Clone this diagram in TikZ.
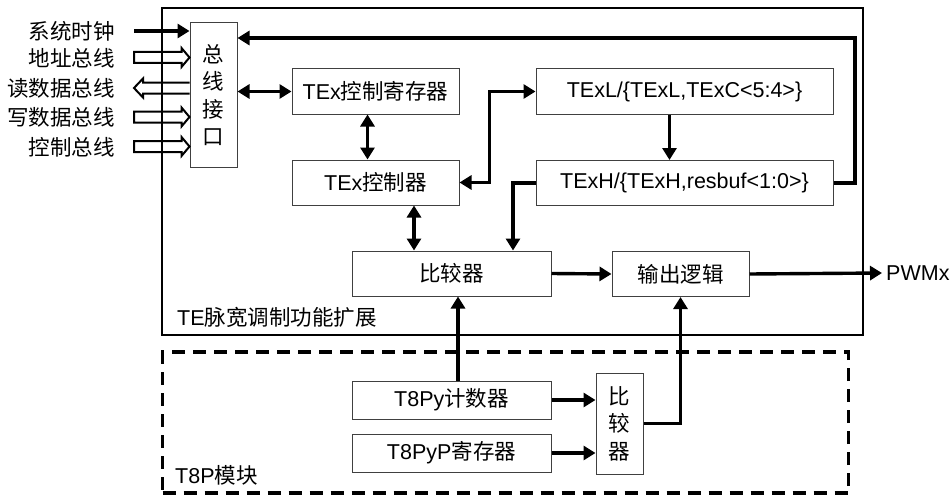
\documentclass[tikz,border=0pt]{standalone}
\usepackage{fontspec}
\setmainfont{Liberation Sans}
\newfontfamily\cjk{Noto Sans CJK SC}
\usetikzlibrary{arrows.meta,calc}
\begin{document}
\begin{tikzpicture}[x=1pt,y=-1pt,
  every node/.style={font=\fontsize{21.5}{27.5}\selectfont, inner sep=0pt},
  cjkf/.style={font=\fontsize{21.5}{27.5}\selectfont\cjk},
  blk/.style={draw=black!75, line width=1pt, minimum height=45pt},
  con/.style={line width=3.4pt, -{Triangle[length=12pt,width=14pt]}},
  bicon/.style={line width=3.4pt, {Triangle[length=12pt,width=14pt]}-{Triangle[length=12pt,width=14pt]}},
  hollow/.style={line width=2pt, line join=miter},
  lbl/.style={cjkf, anchor=east}]
\useasboundingbox (0,0) rectangle (950,495);

% frames
\node[draw, line width=2.2pt, minimum width=701pt, minimum height=327pt] (te) at (512.5,171.5) {};
\node[draw, line width=3.2pt, dash pattern=on 13pt off 8pt, minimum width=686pt, minimum height=141pt] (t8p) at (505.5,422.5) {};
\node[anchor=west] (telab) at (177,317) {TE{\cjk 脉宽调制功能扩展}};
\node[anchor=west] (t8plab) at (175,475) {T8P{\cjk 模块}};

% left labels
\node[lbl] (l1) at (115,31) {系统时钟};
\node[lbl] (l2) at (115,58) {地址总线};
\node[lbl] (l3) at (115,88) {读数据总线};
\node[lbl] (l4) at (115,117) {写数据总线};
\node[lbl] (l5) at (115,147) {控制总线};

% blocks
\node[blk, cjkf, minimum width=47pt, minimum height=144pt, align=center] (bus) at (213.5,95) {总\\线\\接\\口};
\node[blk, minimum width=167pt] (reg) at (375.5,91.5) {TEx{\cjk 控制寄存器}};
\node[blk, minimum width=167pt] (ctl) at (375.5,182.5) {TEx{\cjk 控制器}};
\node[blk, minimum width=297pt] (texl) at (684.5,91.5) {TExL/\{TExL,TExC<5:4>\}};
\node[blk, minimum width=297pt] (texh) at (684.5,183) {TExH/\{TExH,resbuf<1:0>\}};
\node[blk, cjkf, minimum width=199pt] (cmp) at (451.5,273.5) {比较器};
\node[blk, cjkf, minimum width=137pt] (outl) at (680.5,274) {输出逻辑};
\node[blk, minimum width=199pt, minimum height=38pt] (cnt) at (451.5,400) {T8Py{\cjk 计数器}};
\node[blk, minimum width=199pt, minimum height=38pt] (pr) at (451.5,453) {T8PyP{\cjk 寄存器}};
\node[blk, cjkf, minimum width=47pt, minimum height=101pt, align=center] (scmp) at (619.5,423.5) {比\\较\\器};
\node[anchor=west, inner xsep=4pt] (pwm) at (882,273) {PWMx};

% input arrows
\coordinate (c1) at ($(l1.east)+(19,0)$);
\draw[con] (c1) -- (bus.west |- c1);
\coordinate (c2) at ($(l2.east)+(19,-0.5)$);
\coordinate (d2) at (bus.west |- c2);
\draw[hollow] ($(c2)+(0,-5.5)$) -- ($(d2)+(-8,-5.5)$) -- ($(d2)+(-8,-9.5)$) -- (d2) -- ($(d2)+(-8,9.5)$) -- ($(d2)+(-8,5.5)$) -- ($(c2)+(0,5.5)$) -- cycle;
\coordinate (c3) at ($(l3.east)+(19,0)$);
\coordinate (d3) at (bus.west |- c3);
\draw[hollow] ($(d3)+(0,-5.5)$) -- ($(c3)+(9,-5.5)$) -- ($(c3)+(9,-9.5)$) -- (c3) -- ($(c3)+(9,9.5)$) -- ($(c3)+(9,5.5)$) -- ($(d3)+(0,5.5)$);
\coordinate (c4) at ($(l4.east)+(19,0)$);
\coordinate (d4) at (bus.west |- c4);
\draw[hollow] ($(c4)+(0,-5.5)$) -- ($(d4)+(-8,-5.5)$) -- ($(d4)+(-8,-9.5)$) -- (d4) -- ($(d4)+(-8,9.5)$) -- ($(d4)+(-8,5.5)$) -- ($(c4)+(0,5.5)$) -- cycle;
\coordinate (c5) at ($(l5.east)+(19,-0.5)$);
\coordinate (d5) at (bus.west |- c5);
\draw[hollow] ($(c5)+(0,-5.5)$) -- ($(d5)+(-8,-5.5)$) -- ($(d5)+(-8,-9.5)$) -- (d5) -- ($(d5)+(-8,9.5)$) -- ($(d5)+(-8,5.5)$) -- ($(c5)+(0,5.5)$) -- cycle;

% internal connectors
\coordinate (lp) at (855,38);
\draw[con] (texh.east) -| (lp) -- (bus.east |- lp);
\draw[bicon] (bus.east |- reg.west) -- (reg.west);
\draw[bicon] ([xshift=-8pt]reg.south) -- ([xshift=-8pt]ctl.north);
\draw[bicon] (ctl.east) -- ++(30,0) |- (texl.west);
\draw[con] ([xshift=-15pt]texl.south) -- ([xshift=-15pt]texh.north);
\draw[con] (texh.west) -| ([xshift=61.5pt]cmp.north);
\draw[bicon] ([xshift=38.5pt]ctl.south) -- ([xshift=38.5pt]ctl.south |- cmp.north);
\draw[con] (cmp.east) -- (outl.west);
\draw[con] (outl.east) -- (pwm.west);
\draw[con] ([xshift=6.5pt]cnt.north) -- ([xshift=6.5pt]cnt.north |- cmp.south);
\draw[con] (cnt.east) -- (scmp.west |- cnt.east);
\draw[con] (pr.east) -- (scmp.west |- pr.east);
\draw[con] (scmp.east) -| (outl.south);
\end{tikzpicture}
\end{document}
